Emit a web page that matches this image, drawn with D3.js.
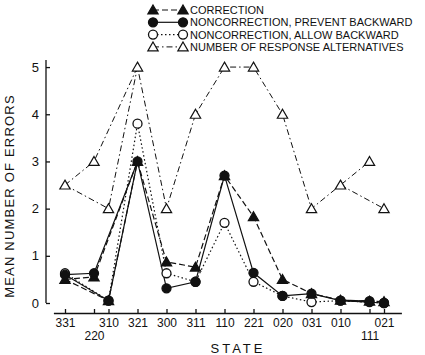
<!DOCTYPE html>
<html>
<head>
<meta charset="utf-8">
<script src="https://cdn.jsdelivr.net/npm/d3@7"></script>
<style>
  body { margin: 0; background: #fff; }
  svg { display: block; font-family: "Liberation Sans", Arial, sans-serif; }
</style>
</head>
<body>
<div id="wrapper"></div>
<script>
// Data
const states = ["331", "220", "310", "321", "300", "311", "110", "221", "020", "031", "010", "111", "021"]
const steps = [0, 1, 1.5, 2.5, 3.5, 4.5, 5.5, 6.5, 7.5, 8.5, 9.5, 10.5, 11]
const lowerRow = ["220", "111"]
const correction = [0.5, 0.55, 0.05, 3.0, 0.87, 0.76, 2.7, 1.83, 0.5, 0.2, 0.06, 0.04, 0.03]
const preventBackward = [0.6, 0.63, 0.05, 3.0, 0.31, 0.45, 2.7, 0.64, 0.15, 0.2, 0.05, 0.04, 0.0]
const allowBackward = [0.63, null, 0.05, 3.8, 0.63, 0.45, 1.7, 0.45, 0.15, 0.02, 0.05, 0.02, 0.0]
const responseAlternatives = [2.5, 3, 2, 5, 2, 4, 5, 5, 4, 2, 2.5, 3, 2]
const yTicks = [0, 1, 2, 3, 4, 5]
// paths through the state graph (it branches at the start and at the end)
const branches = [
  ["331", "220", "321", "300", "311", "110", "221", "020", "031", "010", "111"],
  ["331", "310", "321"],
  ["010", "021"]
]

const series = [
  { name: "CORRECTION", values: correction, marker: "triangle", filled: true, dash: "6 3", w: 1.2 },
  { name: "NONCORRECTION, PREVENT BACKWARD", values: preventBackward, marker: "circle", filled: true, dash: null, w: 1.2 },
  { name: "NONCORRECTION, ALLOW BACKWARD", values: allowBackward, marker: "circle", filled: false, dash: "1.5 2.5", w: 1.2 },
  { name: "NUMBER OF RESPONSE ALTERNATIVES", values: responseAlternatives, marker: "triangle", filled: false, dash: "6 3 1.5 3", w: 1 }
]

const width = 425
const height = 355

const svg = d3.select("#wrapper")
  .append("svg")
  .attr("width", width)
  .attr("height", height)

// Skaalat
const xScale = d3.scaleLinear()
  .domain([-0.4, 11.6])
  .range([53.4, 401.4])

const yScale = d3.scaleLinear()
  .domain([0, 5.15])
  .range([303, 60])

const stepOf = s => steps[states.indexOf(s)]

// Akselit
const yAxis = svg.append("g")
  .attr("transform", "translate(46,0)")
  .call(d3.axisLeft(yScale).tickValues(yTicks).tickFormat(d3.format("d"))
    .tickSizeInner(-4).tickSizeOuter(0).tickPadding(7))
yAxis.selectAll("text").attr("font-size", 13).attr("fill", "#111")
yAxis.selectAll("line, path").attr("stroke", "#111").attr("stroke-width", 1.3)
yAxis.select(".domain").attr("d", `M0,${yScale(0)}V${yScale(5.15)}`)

const xAxis = svg.append("g")
  .attr("transform", "translate(0,313)")
  .call(d3.axisBottom(xScale).tickValues(steps).tickSizeInner(-4).tickSizeOuter(0).tickPadding(5)
    .tickFormat((d, i) => states[i]))
xAxis.selectAll("line, path").attr("stroke", "#111").attr("stroke-width", 1.3)
xAxis.selectAll("text")
  .attr("font-size", 12)
  .attr("fill", "#111")
  .attr("dy", (d, i) => lowerRow.includes(states[i]) ? "1.85em" : "0.71em")

svg.append("text")
  .attr("transform", "translate(14,196) rotate(-90)")
  .attr("text-anchor", "middle")
  .attr("font-size", 13)
  .attr("letter-spacing", 1.2)
  .attr("fill", "#111")
  .text("MEAN NUMBER OF ERRORS")

svg.append("text")
  .attr("x", 238)
  .attr("y", 353)
  .attr("text-anchor", "middle")
  .attr("font-size", 13)
  .attr("letter-spacing", 3)
  .attr("fill", "#111")
  .text("STATE")

// Merkit
const triangle = d3.symbol().type(d3.symbolTriangle).size(46)

function drawMarker(g, s, x, y) {
  if (s.marker === "circle") {
    g.append("circle")
      .attr("cx", x)
      .attr("cy", y)
      .attr("r", 4.5)
      .attr("fill", s.filled ? "#111" : "#fff")
      .attr("stroke", "#111")
      .attr("stroke-width", 1.3)
  } else {
    g.append("path")
      .attr("d", triangle())
      .attr("transform", `translate(${x},${y + 1})`)
      .attr("fill", s.filled ? "#111" : "#fff")
      .attr("stroke", "#111")
      .attr("stroke-width", 1.2)
  }
}

const lineGenerator = d3.line()
  .defined(d => d.v !== null)
  .x(d => xScale(stepOf(d.s)))
  .y(d => yScale(d.v))

// taakse ensin: vastausvaihtoehdot
const order = [3, 2, 0, 1]
order.forEach(k => {
  const s = series[k]
  const g = svg.append("g")
  branches.forEach(b => {
    const pts = b.map(st => ({ s: st, v: s.values[states.indexOf(st)] }))
    g.append("path")
      .attr("d", lineGenerator(pts))
      .attr("fill", "none")
      .attr("stroke", "#111")
      .attr("stroke-width", s.w)
      .attr("stroke-dasharray", s.dash)
  })
})
order.forEach(k => {
  const s = series[k]
  const g = svg.append("g")
  states.forEach((st, i) => {
    if (s.values[i] === null) return
    drawMarker(g, s, xScale(steps[i]), yScale(s.values[i]))
  })
})

// Legenda
const legend = svg.append("g")
series.forEach((s, i) => {
  const y = 10 + i * 12.3
  legend.append("line")
    .attr("x1", 153).attr("x2", 183)
    .attr("y1", y).attr("y2", y)
    .attr("stroke", "#111")
    .attr("stroke-width", s.w)
    .attr("stroke-dasharray", s.dash)
  drawMarker(legend, s, 153, y)
  drawMarker(legend, s, 183, y)
  legend.append("text")
    .attr("x", 190)
    .attr("y", y + 4)
    .attr("font-size", 11)
    .attr("fill", "#111")
    .text(s.name)
})
</script>
</body>
</html>
